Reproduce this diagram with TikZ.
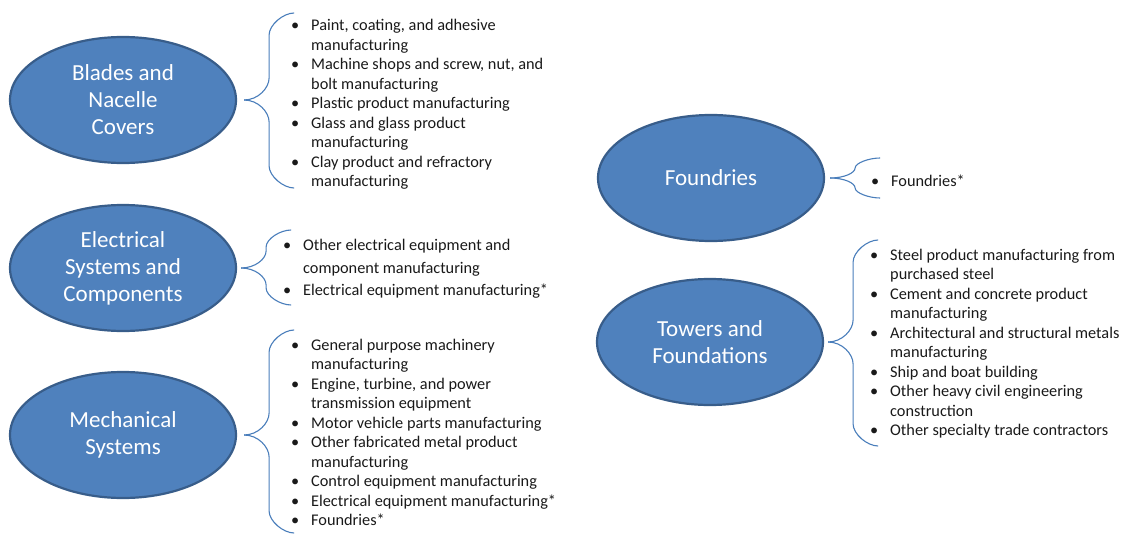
\documentclass[tikz,border=0pt]{standalone}
\usepackage{fontspec}
\setmainfont{Carlito}
\usetikzlibrary{shapes.geometric}

\definecolor{ovalfill}{HTML}{4F81BD}
\definecolor{ovalline}{HTML}{385D8A}
\definecolor{braceline}{HTML}{4A7EBB}
\newcommand{\bul}{\makebox[20pt][l]{\textbullet}}
\newcommand{\ind}{\hspace*{20pt}}

\begin{document}
\begin{tikzpicture}[x=1pt,y=-1pt]
  \tikzstyle{oval}=[ellipse, draw=ovalline, line width=2.2pt, fill=ovalfill, text=white, align=center, minimum width=226pt, minimum height=126pt, inner sep=0pt, font=\fontsize{23}{27}\selectfont]
  \tikzstyle{items}=[anchor=base west, align=left, inner sep=0pt, text=black!90, font=\fontsize{16.3}{19.5}\selectfont]
  \tikzstyle{brace}=[draw=braceline, line width=1.1pt]

  \useasboundingbox (0,0) rectangle (1125,535);

  \node[oval] (Blades) at (123,100) {Blades and\\Nacelle\\Covers};

  \node[oval] (Electrical) at (123,268) {Electrical\\Systems and\\Components};

  \node[oval] (Mechanical) at (123,435) {Mechanical\\Systems};

  \node[oval] (Foundries) at (711,178) {Foundries};

  \node[oval] (Towers) at (710,342) {Towers and\\Foundations};

  % lists (placed by the baseline of their last line)
  \node[items] (BladesList) at (291,186.5) {\bul Paint, coating, and adhesive\\\ind manufacturing\\\bul Machine shops and screw, nut, and\\\ind bolt manufacturing\\\bul Plastic product manufacturing\\\bul Glass and glass product\\\ind manufacturing\\\bul Clay product and refractory\\\ind manufacturing};

  \node[items, font=\fontsize{16.3}{22.5}\selectfont] (ElectricalList) at (283,295.5) {\bul Other electrical equipment and\\\ind component manufacturing\\\bul Electrical equipment manufacturing*};

  \node[items] (MechanicalList) at (291,525.5) {\bul General purpose machinery\\\ind manufacturing\\\bul Engine, turbine, and power\\\ind transmission equipment\\\bul Motor vehicle parts manufacturing\\\bul Other fabricated metal product\\\ind manufacturing\\\bul Control equipment manufacturing\\\bul Electrical equipment manufacturing*\\\bul Foundries*};

  \node[items] (FoundriesList) at (871,186.5) {\bul Foundries*};

  \node[items] (TowersList) at (870,435.5) {\bul Steel product manufacturing from\\\ind purchased steel\\\bul Cement and concrete product\\\ind manufacturing\\\bul Architectural and structural metals\\\ind manufacturing\\\bul Ship and boat building\\\bul Other heavy civil engineering\\\ind construction\\\bul Other specialty trade contractors};

  % braces
  \draw[brace] ([xshift=7pt]Blades.east) .. controls +(14,0) and +(0,10) .. ++(25,-22) -- ++(0,-43) .. controls +(0,-10) and +(-11,0) .. ++(25,-22);
  \draw[brace] ([xshift=7pt]Blades.east) .. controls +(14,0) and +(0,-10) .. ++(25,22) -- ++(0,44) .. controls +(0,10) and +(-11,0) .. ++(25,22);

  \draw[brace] ([xshift=4pt]Electrical.east) .. controls +(14,0) and +(0,8) .. ++(25,-17) -- ++(0,-4) .. controls +(0,-8) and +(-11,0) .. ++(25,-17);
  \draw[brace] ([xshift=4pt]Electrical.east) .. controls +(14,0) and +(0,-8) .. ++(25,17) -- ++(0,3) .. controls +(0,8) and +(-11,0) .. ++(25,17);

  \draw[brace] ([xshift=7pt]Mechanical.east) .. controls +(14,0) and +(0,10) .. ++(25,-22) -- ++(0,-61) .. controls +(0,-10) and +(-11,0) .. ++(25,-22);
  \draw[brace] ([xshift=7pt]Mechanical.east) .. controls +(14,0) and +(0,-10) .. ++(25,22) -- ++(0,54) .. controls +(0,10) and +(-11,0) .. ++(25,22);

  \draw[brace] ([xshift=5pt]Foundries.east) .. controls +(14,0) and +(0,5) .. ++(25,-10) .. controls +(0,-5) and +(-11,0) .. ++(25,-10);
  \draw[brace] ([xshift=5pt]Foundries.east) .. controls +(14,0) and +(0,-5) .. ++(25,10) .. controls +(0,5) and +(-11,0) .. ++(25,10);

  \draw[brace] ([xshift=4pt]Towers.east) .. controls +(14,0) and +(0,10) .. ++(25,-22) -- ++(0,-58) .. controls +(0,-10) and +(-11,0) .. ++(25,-22);
  \draw[brace] ([xshift=4pt]Towers.east) .. controls +(14,0) and +(0,-10) .. ++(25,22) -- ++(0,60) .. controls +(0,10) and +(-11,0) .. ++(25,22);

\end{tikzpicture}
\end{document}
